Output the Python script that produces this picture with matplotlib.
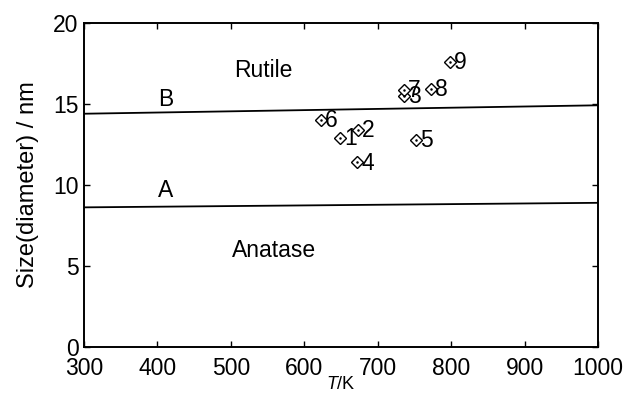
import numpy as np
import matplotlib.pyplot as plt

plt.rcParams['font.family'] = ['Liberation Sans', 'DejaVu Sans']
plt.rcParams['mathtext.fontset'] = 'custom'
plt.rcParams['mathtext.rm'] = 'Liberation Sans'
plt.rcParams['mathtext.it'] = 'Liberation Sans:italic'

# sample points (T / K, diameter / nm)
sample_id = ['1', '2', '3', '4', '5', '6', '7', '8', '9']
temp_k = [649, 673, 736, 672, 752, 623, 736, 773, 798]
size_nm = [12.9, 13.4, 15.5, 11.4, 12.8, 14.0, 15.85, 15.95, 17.6]

# phase boundary lines
line_t = [300, 1000]
line_a = [8.62, 8.9]
line_b = [14.4, 14.92]

fig = plt.figure(figsize=(6.28, 3.94), dpi=100)
ax = fig.add_axes([0.1338, 0.1193, 0.8184, 0.8223])

ax.plot(line_t, line_a, color='k', lw=1.3)
ax.plot(line_t, line_b, color='k', lw=1.3)

ax.plot(temp_k, size_nm, linestyle='none', marker='D', ms=6.3,
        mfc='white', mec='k', mew=1.0)
ax.plot(temp_k, size_nm, linestyle='none', marker='.', ms=1.6, color='k')

fs = 16.5
for lab, t, s in zip(sample_id, temp_k, size_nm):
    ax.annotate(lab, (t, s), xytext=(3, -0.5), textcoords='offset points',
                ha='left', va='center', fontsize=fs)

ax.text(401, 14.55, 'B', fontsize=fs, ha='left', va='bottom')
ax.text(401, 8.92, 'A', fontsize=fs, ha='left', va='bottom')
ax.text(504, 16.65, 'Rutile', fontsize=fs, ha='left', va='baseline')
ax.text(501, 5.54, 'Anatase', fontsize=fs, ha='left', va='baseline')

ax.set_xlim(300, 1000)
ax.set_ylim(0, 20)
ax.set_xticks(np.arange(300, 1001, 100))
ax.set_yticks(np.arange(0, 21, 5))
ax.tick_params(direction='in', length=4, width=1, labelsize=fs,
               top=True, right=True)
ax.tick_params(axis='x', pad=7.5)
ax.tick_params(axis='y', pad=4)
for sp in ax.spines.values():
    sp.set_linewidth(1.4)

ax.set_xlabel('$\\it{T}$/K', fontsize=13, labelpad=-3)
ax.set_ylabel('Size(diameter) / nm', fontsize=17, labelpad=10)

fig.savefig('out.png', dpi=100)
